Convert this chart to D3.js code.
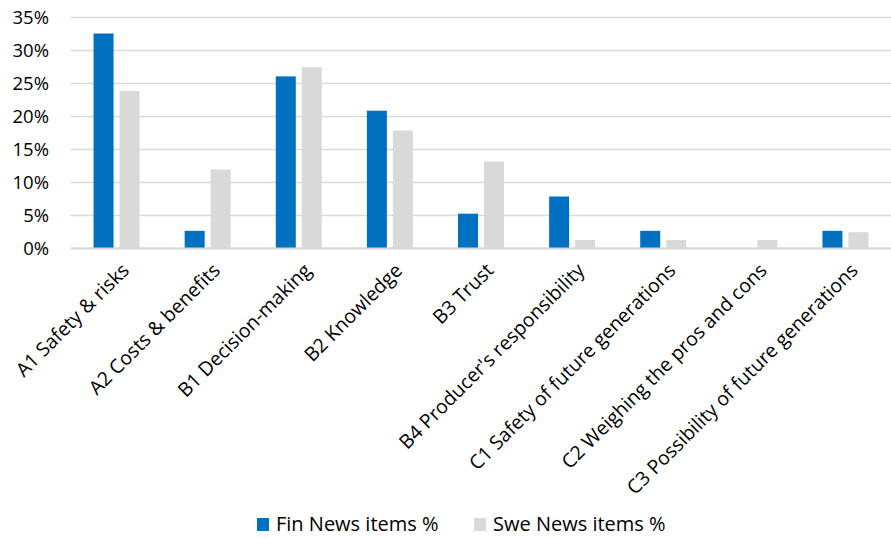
<!DOCTYPE html>
<html><head><meta charset="utf-8">
<script src="https://cdn.jsdelivr.net/npm/d3@7"></script>
<style>body{margin:0;background:#fff;} svg{display:block;} text{font-family:"Open Sans",sans-serif;fill:#000;}</style>
</head><body><svg id="c" width="891" height="538"></svg>
<script>
const categories = ["A1 Safety & risks","A2 Costs & benefits","B1 Decision-making","B2 Knowledge","B3 Trust","B4 Producer's responsibility","C1 Safety of future generations","C2 Weighing the pros and cons","C3 Possibility of future generations"];
const finValues = [32.5, 2.6, 26.0, 20.8, 5.2, 7.8, 2.6, 0, 2.6];
const sweValues = [23.8, 11.9, 27.4, 17.8, 13.1, 1.2, 1.2, 1.2, 2.4];
const seriesNames = ["Fin News items %","Swe News items %"];
const seriesColors = ["#0070C0","#D9D9D9"];
const yTicks = [0,5,10,15,20,25,30,35];

const svg = d3.select("#c");
const L = 71, R = 891, T = 17, B = 248;
const x = d3.scaleBand().domain(categories).range([L, R]).paddingInner(0).paddingOuter(0);
const y = d3.scaleLinear().domain([0,35]).range([B, T]);
const bw = 20, gap = 6;

svg.append("g").selectAll("line").data(yTicks).join("line")
  .attr("x1", L).attr("x2", R).attr("y1", d=>Math.round(y(d))+0.5).attr("y2", d=>Math.round(y(d))+0.5)
  .attr("stroke", "#D9D9D9").attr("stroke-width", d=> d===0 ? 2 : 1.3);

svg.append("g").selectAll("text").data(yTicks).join("text")
  .attr("x", 49).attr("y", d=>y(d)).attr("dy","0.36em").attr("text-anchor","end")
  .style("font-size","18.5px").text(d=>d+"%");

const data = categories.map((c,i)=>({c, v:[finValues[i], sweValues[i]]}));
const g = svg.append("g");
data.forEach(d=>{
  const cx = x(d.c) + x.bandwidth()/2;
  d.v.forEach((v,j)=>{
    const x0 = j===0 ? cx - gap/2 - bw : cx + gap/2;
    if (v>0) g.append("rect").attr("x", x0).attr("width", bw)
      .attr("y", y(v)).attr("height", y(0)-y(v)).attr("fill", seriesColors[j]);
  });
});
svg.append("line").attr("x1",L).attr("x2",R).attr("y1",B+0.5).attr("y2",B+0.5).attr("stroke","#D9D9D9").attr("stroke-width",2);

svg.append("g").selectAll("text").data(categories).join("text")
  .attr("transform", d=>`translate(${x(d)+x.bandwidth()/2+4},${B+14}) rotate(-45)`)
  .attr("text-anchor","end").attr("dy","0.7em")
  .style("font-size","19.5px").text(d=>d);

const leg = svg.append("g");
const lx = [257, 474];
seriesNames.forEach((n,i)=>{
  leg.append("rect").attr("x", lx[i]).attr("y", 518).attr("width", 12).attr("height", 13).attr("fill", seriesColors[i]);
  leg.append("text").attr("x", lx[i]+19).attr("y", 524).attr("dy","0.36em").style("font-size","20px").text(n);
});
</script></body></html>
